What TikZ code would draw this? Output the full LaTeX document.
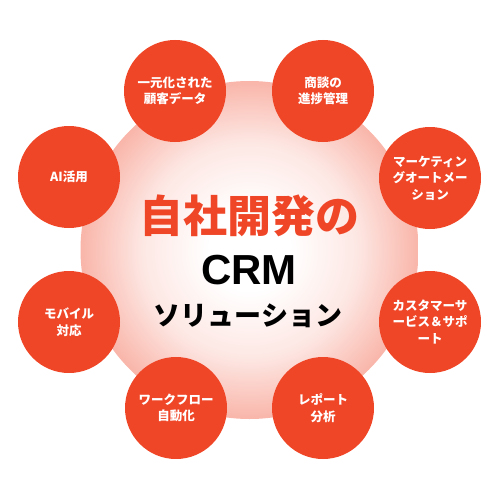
\documentclass[tikz,border=0pt]{standalone}
\usepackage{fontspec}
\newfontfamily\jpfont{Noto Sans CJK JP}
\newfontfamily\crmfont{Liberation Sans}
\definecolor{crmred}{RGB}{240,70,40}
\pgfdeclareradialshading{crmglow}{\pgfpointorigin}{color(0bp)=(white); color(6bp)=(white);
	color(16bp)=(crmred!13); color(25bp)=(crmred!40); color(50bp)=(crmred!40)}
\begin{document}
\begin{tikzpicture}[x=1pt,y=-1pt,font=\jpfont,
	feature/.style={circle,fill=crmred,minimum size=102pt,inner sep=0pt,text=white,align=center,
		font=\jpfont\bfseries\fontsize{12.5}{16.5}\selectfont}]
		\useasboundingbox (0,0) rectangle (500,500);
		\shade[shading=crmglow] (249.5,250) circle (169pt);
		\node[inner sep=0pt,text=crmred,font=\jpfont\bfseries\fontsize{44}{44}\selectfont] (title) at (249,216) {自社開発の};
		\node[inner sep=0pt,font=\crmfont\bfseries\fontsize{42}{42}\selectfont] (crm) at (249,270) {CRM};
		\node[inner sep=0pt,font=\jpfont\bfseries\fontsize{27}{27}\selectfont] (sol) at (248,316) {ソリューション};
		\foreach \px/\py/\txt [count=\i] in {175/91/{一元化された\\顧客データ},323/91/{商談の\\進捗管理},
			430/178/{マーケティン\\グオートメー\\ション},430/322/{カスタマーサ\\ービス＆サポ\\ート},
			323/408/{レポート\\分析},176/408/{ワークフロー\\自動化},69/322/{モバイル\\対応},69/177/{AI活用}}
			\node[feature] (f\i) at (\px,\py) {\txt};
\end{tikzpicture}
\end{document}
